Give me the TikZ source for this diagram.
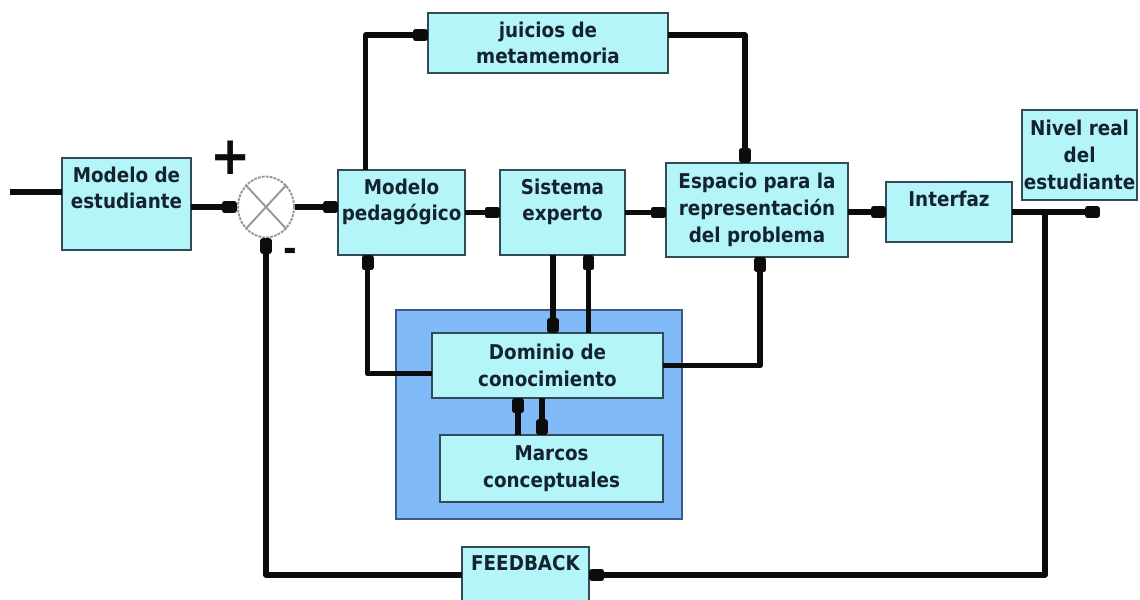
\documentclass[tikz,border=0pt]{standalone}
\usepackage{fontspec}
\setmainfont{DejaVu Sans Condensed}
\usetikzlibrary{arrows.meta,shapes.geometric}

\definecolor{boxfill}{RGB}{180,245,250}
\definecolor{boxline}{RGB}{50,75,85}
\definecolor{domfill}{RGB}{128,186,248}
\definecolor{domline}{RGB}{60,90,140}
\definecolor{linecol}{RGB}{12,12,12}
\definecolor{ink}{RGB}{20,35,45}

\tikzset{
	blk/.style={draw=boxline, fill=boxfill, line width=1.1pt, outer sep=0pt, inner sep=0pt},
	txt/.style={font=\bfseries\fontsize{14.5}{19}\selectfont, text=ink, align=center},
	toptxt/.style={txt, below, inner sep=0pt, yshift=-6pt},
	link/.style={line width=4pt, draw=linecol, line join=round},
	flow/.style={link, -{Rectangle[length=11pt,width=8.5pt,round]}}
}

\begin{document}
\begin{tikzpicture}
	\useasboundingbox (0,0) rectangle (28.5,-14.975);
	\clip (0,0) rectangle (28.5,-14.975);
	
	%nodes
	\node[blk, minimum width=3.225cm, minimum height=2.3cm, label={[toptxt]north:Modelo de\\estudiante}] (mest) at (3.1625,-5.1) {};
	\node[ellipse, draw=gray!80, line width=1.4pt, dash pattern=on 2pt off 0.8pt, minimum width=1.4cm, minimum height=1.52cm, inner sep=0pt] (sum) at (6.65,-5.175) {};
	\node[blk, minimum width=3.175cm, minimum height=2.125cm, label={[toptxt]north:Modelo\\pedagógico}] (pedag) at (10.04,-5.3125) {};
	\node[blk, minimum width=3.125cm, minimum height=2.125cm, label={[toptxt]north:Sistema\\experto}] (sist) at (14.0625,-5.3125) {};
	\node[blk, txt, minimum width=4.55cm, minimum height=2.35cm] (esp) at (18.925,-5.25) {Espacio para la\\representación\\del problema};
	\node[blk, minimum width=3.15cm, minimum height=1.5cm, label={[toptxt]north:Interfaz}] (inter) at (23.725,-5.3) {};
	\node[blk, txt, minimum width=2.875cm, minimum height=2.25cm] (nivel) at (26.99,-3.875) {Nivel real\\del\\estudiante};
	\node[blk, txt, minimum width=6cm, minimum height=1.5cm] (juic) at (13.7,-1.075) {juicios de\\metamemoria};
	\node[draw=domline, fill=domfill, line width=1.1pt, minimum width=7.15cm, minimum height=5.225cm] (dombg) at (13.475,-10.3625) {};
	\node[blk, txt, minimum width=5.775cm, minimum height=1.625cm] (dom) at (13.6875,-9.1375) {Dominio de\\conocimiento};
	\node[blk, txt, minimum width=5.575cm, minimum height=1.675cm] (marc) at (13.79,-11.71) {Marcos\\conceptuales};
	\node[blk, minimum width=3.175cm, minimum height=1.4cm, label={[toptxt]north:FEEDBACK}] (feed) at (13.1375,-14.375) {};
	
	%signs
	\draw[gray!80, line width=1.4pt] (sum.north west) -- (sum.south east) (sum.north east) -- (sum.south west);
	\node[font=\bfseries\fontsize{38}{38}\selectfont, text=linecol] (plus) at (5.775,-3.95) {+};
	\node[font=\bfseries\fontsize{26}{26}\selectfont, text=linecol] (minus) at (7.25,-6.375) {-};
	
	\coordinate (src) at (0.25,-4.8);
	\coordinate (out) at (27.5,-5.3);
	\coordinate (tap) at (26.125,-5.3);
	
	%lines
	\draw[link] (src) -- (src -| mest.west);							%input--mest
	\draw[flow] (mest.east |- sum.west) -- (sum.west);					%mest--sum
	\draw[flow] (sum.east) -- (sum.east -| pedag.west);					%sum--pedag
	\draw[flow] (pedag.east) -- (sist.west);							%pedag--sist
	\draw[flow] (sist.east) -- (sist.east -| esp.west);					%sist--esp
	\draw[flow] (esp.east |- inter.west) -- (inter.west);				%esp--inter
	\draw[flow] (inter.east) -- (out);									%inter--out
	\draw[flow] (tap) |- (feed.east);									%out--feed
	\draw[flow] (feed.west) -| (sum.south);								%feed--sum
	\draw[flow] ([xshift=-0.9cm]pedag.north) |- ([yshift=0.2cm]juic.west);	%pedag--juic
	\draw[flow] ([yshift=0.2cm]juic.east) -| ([xshift=-0.3cm]esp.north);	%juic--esp
	\draw[flow] ([xshift=-0.24cm]sist.south) -- ([xshift=-0.24cm]sist.south |- dom.north);	%sist--dom
	\draw[flow] ([xshift=0.65cm]sist.south |- dom.north) -- ([xshift=0.65cm]sist.south);	%dom--sist
	\draw[flow] ([yshift=-0.2cm]dom.west) -| ([xshift=-0.85cm]pedag.south);	%dom--pedag
	\draw[flow] (dom.east) -| ([xshift=0.08cm]esp.south);					%dom--esp
	\draw[flow] ([xshift=-0.74cm]dom.south |- marc.north) -- ([xshift=-0.74cm]dom.south);	%marc--dom
	\draw[flow] ([xshift=-0.14cm]dom.south) -- ([xshift=-0.14cm]dom.south |- marc.north);	%dom--marc
	
\end{tikzpicture}
\end{document}
